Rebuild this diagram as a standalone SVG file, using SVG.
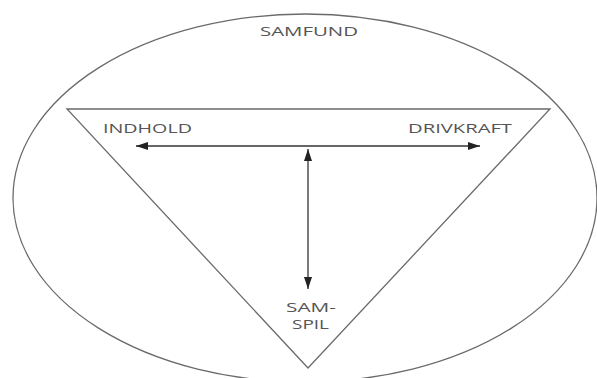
<svg xmlns="http://www.w3.org/2000/svg" width="597" height="378" viewBox="0 0 597 378">
<style>
.shape{fill:none;stroke:#6a6a6a;stroke-width:1.3}
.conn{fill:none;stroke:#333;stroke-width:1.3}
.lbl{font-family:"Open Sans","Liberation Sans",sans-serif;font-size:13px;fill:#555}
</style>
<defs>
<marker id="ah" viewBox="0 0 12 8" refX="12" refY="4" markerWidth="12" markerHeight="8" markerUnits="userSpaceOnUse" orient="auto-start-reverse">
<path d="M0,0 L12,4 L0,8 Z" fill="#222"/>
</marker>
</defs>
<rect width="597" height="378" fill="#fff"/>
<g id="samfund">
<ellipse class="shape" cx="305" cy="198" rx="292" ry="184"/>
<text class="lbl" x="260" y="36" textLength="98" lengthAdjust="spacingAndGlyphs">SAMFUND</text>
</g>
<g id="triangle">
<polygon class="shape" points="67,109 550,109 308,368"/>
</g>
<g id="indhold">
<text class="lbl" x="103" y="133" textLength="89" lengthAdjust="spacingAndGlyphs">INDHOLD</text>
</g>
<g id="drivkraft">
<text class="lbl" x="408" y="133" textLength="104" lengthAdjust="spacingAndGlyphs">DRIVKRAFT</text>
</g>
<g id="samspil">
<text class="lbl" x="286" y="312" textLength="50" lengthAdjust="spacingAndGlyphs">SAM-</text>
<text class="lbl" x="292" y="329" textLength="37" lengthAdjust="spacingAndGlyphs">SPIL</text>
</g>
<g id="connectors">
<line class="conn" x1="136" y1="146" x2="480" y2="146" marker-start="url(#ah)" marker-end="url(#ah)"/>
<line class="conn" x1="308" y1="149" x2="308" y2="289" marker-start="url(#ah)" marker-end="url(#ah)"/>
</g>
</svg>
